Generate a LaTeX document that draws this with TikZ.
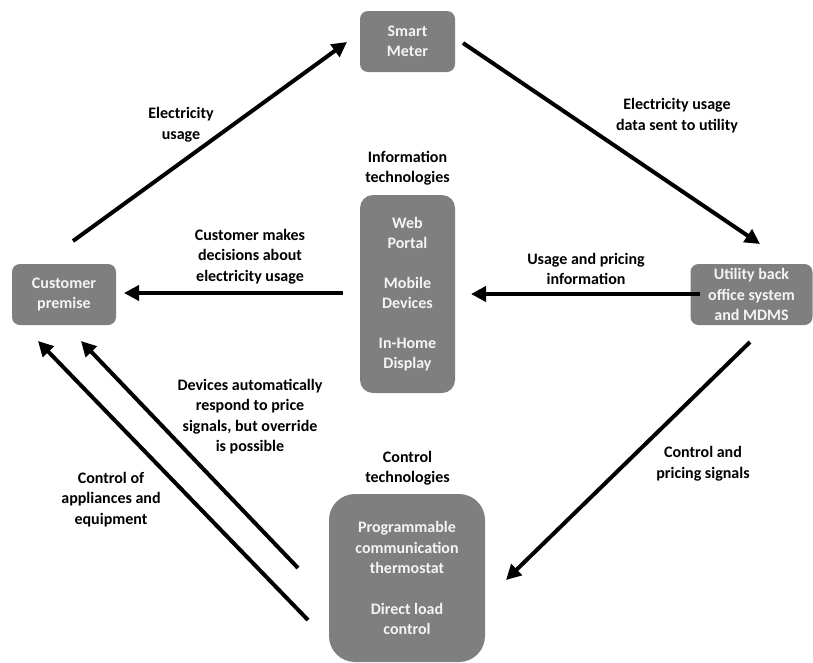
\documentclass[tikz,border=0pt]{standalone}
\usepackage{fontspec}
\setmainfont{Carlito}
\usetikzlibrary{arrows.meta}
\definecolor{boxgray}{HTML}{7F7F7F}
\definecolor{boxtext}{HTML}{F4F4F4}
\tikzset{
  txt/.style={font=\bfseries\fontsize{16}{20.5}\selectfont, align=center, text=black, inner sep=0pt},
  gbox/.style={fill=boxgray, draw=none, text=boxtext, font=\bfseries\fontsize{16}{20.5}\selectfont, align=center, inner sep=0pt},
  flow/.style={line width=4pt, -{Triangle[length=15pt,width=15pt]}},
}
\begin{document}
\begin{tikzpicture}[x=1pt,y=-1pt]
\useasboundingbox (0,0) rectangle (813,662);
% boxes
\node[gbox, rounded corners=8pt, minimum width=95pt, minimum height=61pt] (sm) at (407.5,41.5) {Smart\\Meter};
\node[gbox, rounded corners=8pt, minimum width=104pt, minimum height=61pt] (cp) at (64,294.5) {Customer\\premise};
\node[gbox, rounded corners=8pt, minimum width=122pt, minimum height=61pt] (ub) at (751.5,294.5) {Utility back\\office system\\and MDMS};
\node[gbox, rounded corners=13pt, minimum width=95pt, minimum height=198pt] (it) at (407.5,294) {Web\\Portal\\[19pt]Mobile\\Devices\\[19pt]In-Home\\Display};
\node[gbox, rounded corners=26pt, minimum width=156pt, minimum height=168pt] (ct) at (407,578) {Programmable\\communication\\thermostat\\[20pt]Direct load\\control};
% titles
\node[txt] (itt) at (407.5,168) {Information\\technologies};
\node[txt] (ctt) at (407.5,468) {Control\\technologies};
% connector end points
\coordinate (a1s) at (73,241);   \coordinate (a1e) at (347,42);
\coordinate (a2s) at (463,43);   \coordinate (a2e) at (760,244);
\coordinate (a3s) at (700,294);  \coordinate (a3e) at (471,294);
\coordinate (a4s) at (343,293);  \coordinate (a4e) at (124,293);
\coordinate (a5s) at (750,342);  \coordinate (a5e) at (506,580);
\coordinate (a6s) at (298,568);  \coordinate (a6e) at (81,341);
\coordinate (a7s) at (308,620);  \coordinate (a7e) at (38,341);
% connectors
\draw[flow] (a1s) -- (a1e);
\draw[flow] (a2s) -- (a2e);
\draw[flow] (a3s) -- (a3e);
\draw[flow] (a4s) -- (a4e);
\draw[flow] (a5s) -- (a5e);
\draw[flow] (a6s) -- (a6e);
\draw[flow] (a7s) -- (a7e);
% labels
\node[txt] (l1) at (181,124.5) {Electricity\\usage};
\node[txt] (l2) at (677,115.5) {Electricity usage\\data sent to utility};
\node[txt] (l3) at (250,256.5) {Customer makes\\decisions about\\electricity usage};
\node[txt] (l4) at (586,269) {Usage and pricing\\information};
\node[txt] (l5) at (250,416.5) {Devices automatically\\respond to price\\signals, but override\\is possible};
\node[txt] (l6) at (111,499.5) {Control of\\appliances and\\equipment};
\node[txt] (l7) at (703,463.5) {Control and\\pricing signals};
\end{tikzpicture}
\end{document}
